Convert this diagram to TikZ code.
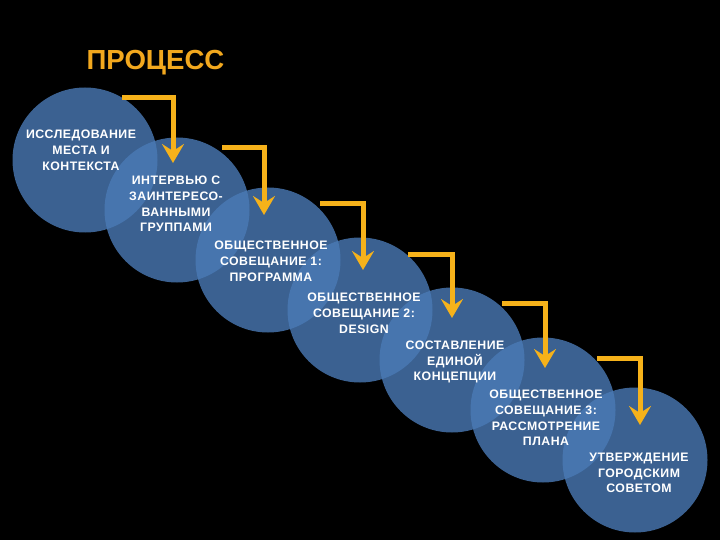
\documentclass[tikz,border=0pt]{standalone}
\usepackage{fontspec}
\setmainfont{Liberation Sans}
\newfontfamily\lblfont{Liberation Sans}[LetterSpace=4]
\usetikzlibrary{arrows.meta}
\definecolor{bluefill}{HTML}{4A7AB6}
\definecolor{arrowc}{HTML}{F6B21A}
\definecolor{titlec}{HTML}{F2A81E}
\tikzset{
  stage/.style={circle, fill=bluefill, fill opacity=0.8, minimum size=145pt, inner sep=0pt, draw=none},
  lbl/.style={text=white, font=\lblfont\bfseries\fontsize{12.3}{15.8}\selectfont, align=center, inner sep=0pt},
  flow/.style={draw=arrowc, line width=5pt, -{Stealth[length=19pt,width=22pt,inset=7pt]}}
}
\begin{document}
\begin{tikzpicture}[x=1pt,y=-1pt]
\fill[black] (0,0) rectangle (720,540);
\useasboundingbox (0,0) rectangle (720,540);
\node[text=titlec, font=\bfseries\fontsize{27.6}{30}\selectfont, inner sep=0pt] (title) at (155.5,63) {ПРОЦЕСС};
% circles
\node[stage] (c1) at (85,160) {};
\node[stage] (c2) at (177,210) {};
\node[stage] (c3) at (268,260) {};
\node[stage] (c4) at (360,310) {};
\node[stage] (c5) at (452,360) {};
\node[stage] (c6) at (543,410) {};
\node[stage] (c7) at (635,460) {};
% arrow end points
\coordinate (s1) at (122,98);  \coordinate (e1) at (173,163);
\coordinate (s2) at (222,148); \coordinate (e2) at (264,215);
\coordinate (s3) at (320,204); \coordinate (e3) at (363,270);
\coordinate (s4) at (408,254); \coordinate (e4) at (452,318);
\coordinate (s5) at (502,303); \coordinate (e5) at (545,368);
\coordinate (s6) at (597,358); \coordinate (e6) at (640,425);
\foreach \i in {1,...,6} { \draw[flow] (s\i) -| (e\i); }
% labels
\node[lbl] (l1) at (81,150) {ИССЛЕДОВАНИЕ\\МЕСТА И\\КОНТЕКСТА};
\node[lbl] (l2) at (176,204) {ИНТЕРВЬЮ С\\ЗАИНТЕРЕСО-\\ВАННЫМИ\\ГРУППАМИ};
\node[lbl] (l3) at (271,261) {ОБЩЕСТВЕННОЕ\\СОВЕЩАНИЕ 1:\\ПРОГРАММА};
\node[lbl] (l4) at (364,313) {ОБЩЕСТВЕННОЕ\\СОВЕЩАНИЕ 2:\\DESIGN};
\node[lbl] (l5) at (455,362) {СОСТАВЛЕНИЕ\\ЕДИНОЙ\\КОНЦЕПЦИИ};
\node[lbl] (l6) at (546,418) {ОБЩЕСТВЕННОЕ\\СОВЕЩАНИЕ 3:\\РАССМОТРЕНИЕ\\ПЛАНА};
\node[lbl] (l7) at (639,473) {УТВЕРЖДЕНИЕ\\ГОРОДСКИМ\\СОВЕТОМ};
\end{tikzpicture}
\end{document}
